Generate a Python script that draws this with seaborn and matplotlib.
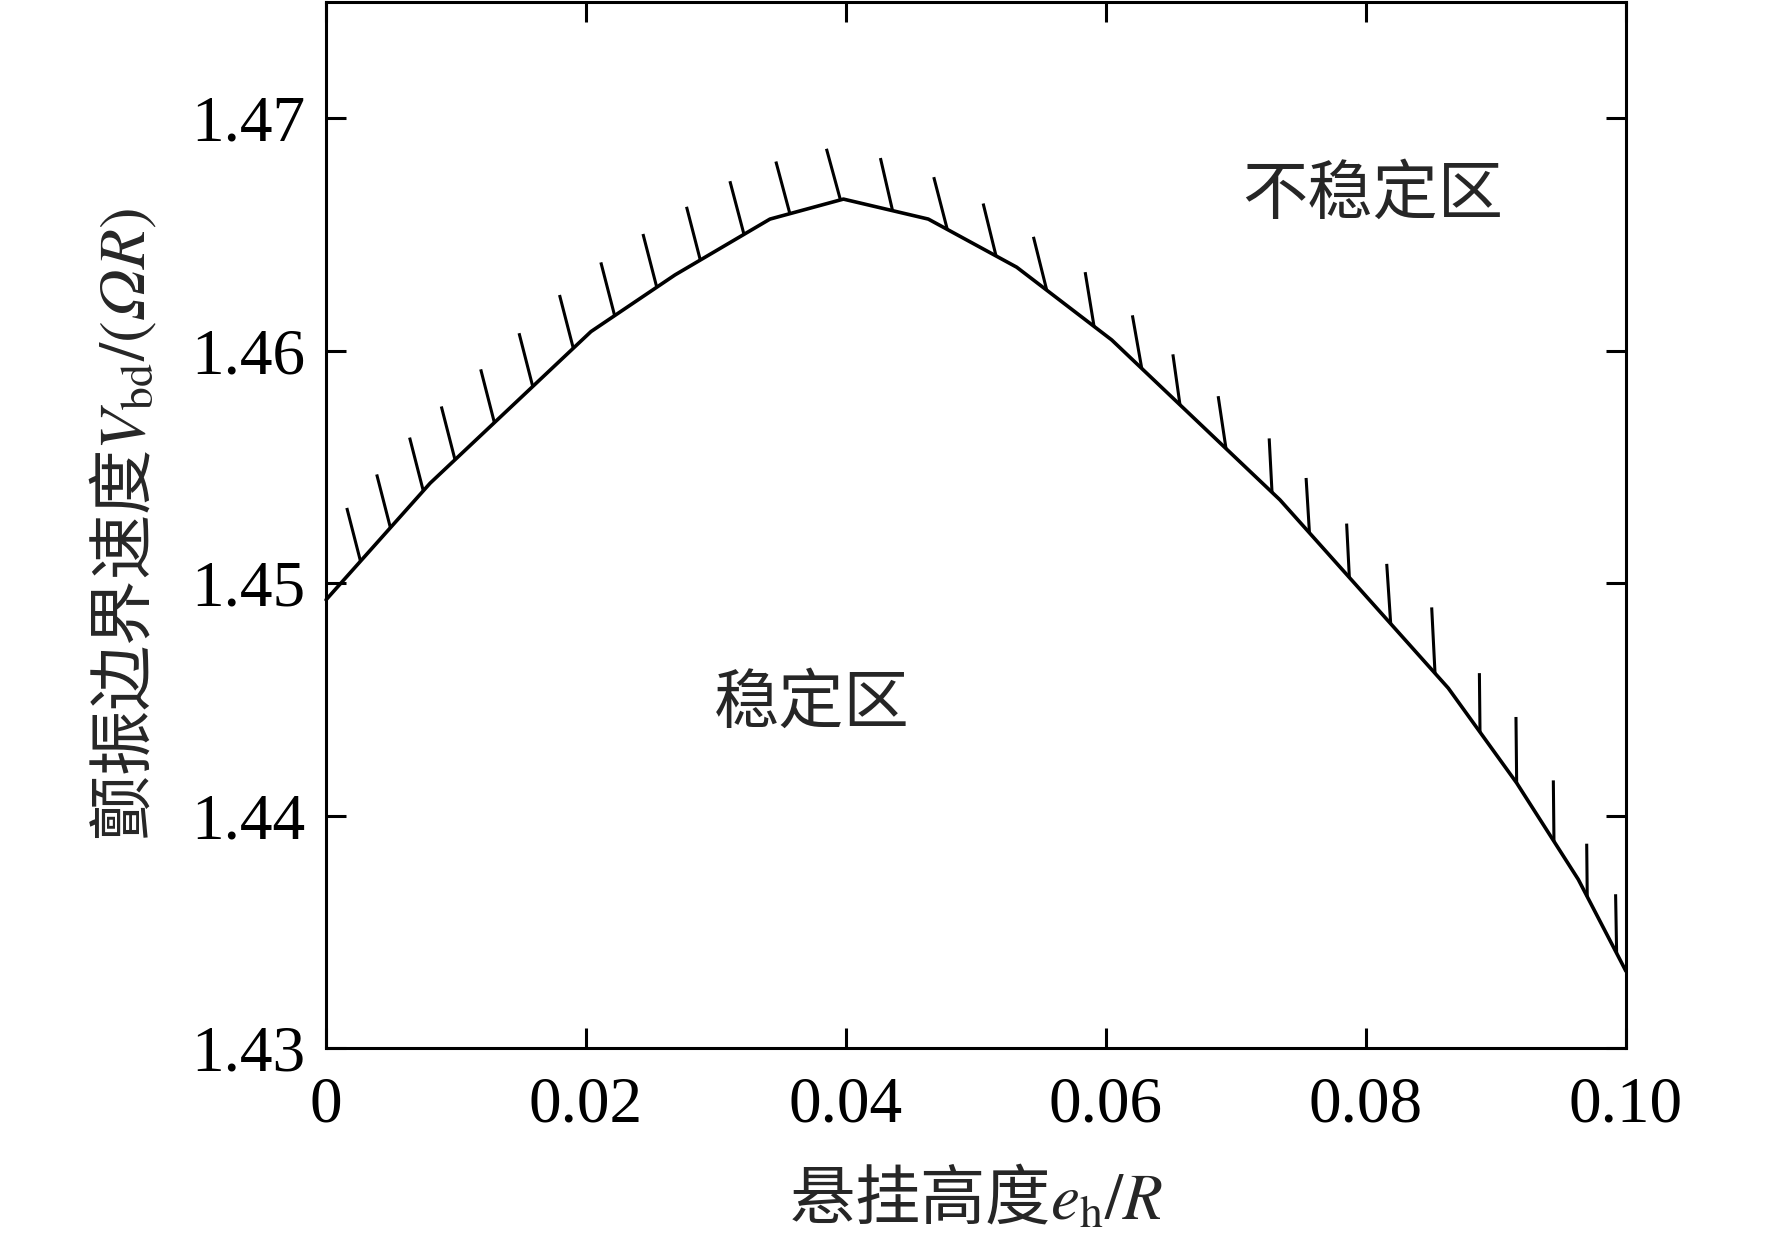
import numpy as np
import pandas as pd
import matplotlib
matplotlib.use('Agg')
import matplotlib.pyplot as plt
import seaborn as sns

# Curva de fronteira de flutter
eh = [0, 0.00801, 0.02038, 0.02685, 0.03415, 0.0398, 0.04633, 0.05313,
      0.06044, 0.07338, 0.08633, 0.09159, 0.09633, 0.1]
vbd = [1.44928, 1.4543, 1.46082, 1.46326, 1.46566, 1.46652, 1.46566, 1.46359,
       1.46046, 1.45358, 1.44548, 1.4414, 1.43725, 1.4333]

# Posicoes das hachuras sobre a curva e a inclinacao de cada uma (graus)
hatch_x = [0.00265, 0.00495, 0.00748, 0.00992, 0.01295, 0.0159, 0.01902, 0.0222,
           0.02544, 0.02879, 0.03215, 0.03568, 0.03957, 0.04358, 0.04779, 0.05154,
           0.05544, 0.05908, 0.06275, 0.06569, 0.06923, 0.07277, 0.07565, 0.07872,
           0.0819, 0.08531, 0.08877, 0.09159, 0.09446, 0.09702, 0.09928]
hatch_ang = [14.4, 14.4, 14.4, 14.4, 14.4, 14.4, 14.5, 14.5,
             14.5, 14.5, 14.8, 15.0, 15.3, 13.0, 14.5, 13.8,
             14.0, 9.3, 10.0, 8.0, 8.5, 3.0, 3.5, 2.9,
             3.8, 2.9, 0.6, 0.6, 0.6, 0.6, 1.0]
hatch_len = [55, 55, 55, 55, 55, 55, 55, 55,
             55, 55, 55, 54, 53, 54, 54, 54,
             55, 55, 54, 51, 53, 54, 55, 54,
             60, 66, 59, 66, 61, 53, 59]

xticks = [0, 0.02, 0.04, 0.06, 0.08, 0.10]
xticklabels = ['0', '0.02', '0.04', '0.06', '0.08', '0.10']
yticks = [1.43, 1.44, 1.45, 1.46, 1.47]

dados = pd.DataFrame({'eh': eh, 'vbd': vbd})

sns.set_theme(style='ticks')
plt.rcParams['font.family'] = ['Liberation Serif', 'Noto Sans CJK SC']
plt.rcParams['mathtext.fontset'] = 'stix'
plt.rcParams['axes.linewidth'] = 2.2

fig = plt.figure(figsize=(17.72, 12.44), dpi=100)
ax = fig.add_axes([0.184, 0.1576, 0.7336, 0.8408])

sns.lineplot(data=dados, x='eh', y='vbd', sort=False, color='black', lw=2.6, ax=ax,
             clip_on=False)

ax.set_xlim(0, 0.1)
ax.set_ylim(1.43, 1.475)

# hachuras: segmento curto partindo da curva, em pixels
base_y = np.interp(hatch_x, eh, vbd)
for hx, hy, ang, L in zip(hatch_x, base_y, hatch_ang, hatch_len):
    px, py = ax.transData.transform((hx, hy))
    a = np.deg2rad(ang)
    top = ax.transData.inverted().transform((px - L * np.sin(a), py + L * np.cos(a)))
    ax.plot([hx, top[0]], [hy, top[1]], color='black', lw=2.2, solid_capstyle='butt')

ax.set_xticks(xticks)
ax.set_xticklabels(xticklabels)
ax.set_yticks(yticks)
ax.set_yticklabels([f'{v:.2f}' for v in yticks])
ax.tick_params(direction='in', length=14.5, width=2.2, top=True, right=True,
               labelsize=47, colors='black')
ax.tick_params(axis='x', pad=20)
ax.tick_params(axis='y', pad=15)

ax.text(0.0805, 1.4666, '不稳定区', fontsize=47, ha='center', va='center')
ax.text(0.0374, 1.4447, '稳定区', fontsize=47, ha='center', va='center')

# rotulos com mathtext: a parte chinesa usa a fonte do proprio texto
ax.set_xlabel('悬挂高度$e_{\\rm h}/R$', fontsize=47, va='center',
              family='Noto Sans CJK SC')
ax.xaxis.set_label_coords(0.5, -0.145)
ax.set_ylabel('颤振边界速度$V_{\\rm bd}/(\U0001D6FAR)$', fontsize=47, va='center',
              family='Noto Sans CJK SC')
ax.yaxis.set_label_coords(-0.155, 0.5)

for s in ax.spines.values():
    s.set_color('black')

fig.savefig('out.png', dpi=100)
